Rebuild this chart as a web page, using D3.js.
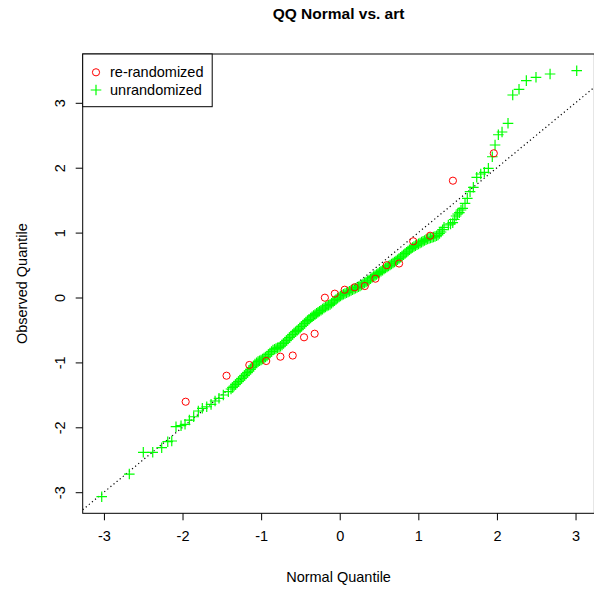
<!DOCTYPE html>
<html>
<head>
<meta charset="utf-8">
<script src="https://cdn.jsdelivr.net/npm/d3@7"></script>
<style>
  html, body { margin: 0; padding: 0; background: #fff; }
  svg { display: block; font-family: "Liberation Sans", Arial, sans-serif; }
</style>
</head>
<body>
<svg id="chart" width="594" height="589"></svg>
<script>
// ---- data ----
const title = "QQ Normal vs. art";
const xLabel = "Normal Quantile";
const yLabel = "Observed Quantile";
const seriesNames = ["re-randomized", "unrandomized"];
const xTicks = [-3, -2, -1, 0, 1, 2, 3];
const yTicks = [-3, -2, -1, 0, 1, 2, 3];

// re-randomized (red circles)
const redX = [-1.96, -1.44, -1.15, -0.935, -0.755, -0.598, -0.454, -0.319, -0.189, -0.063,
               0.063, 0.189, 0.319, 0.454, 0.598, 0.755, 0.935, 1.15, 1.44, 1.96];
const redY = [-1.606, -1.205, -1.040, -0.978, -0.912, -0.894, -0.613, -0.558, -0.003, 0.059,
               0.120, 0.157, 0.177, 0.290, 0.498, 0.524, 0.866, 0.952, 1.800, 2.222];

// unrandomized (green pluses)
const greenX = [
  -3.028, -2.677, -2.499, -2.379, -2.265, -2.188, -2.137, -2.083,
  -2.019, -1.968, -1.913, -1.858, -1.799, -1.748, -1.692, -1.637, -1.586, -1.536, -1.481, -1.417,
  -1.383, -1.364, -1.345, -1.326, -1.307, -1.287, -1.268, -1.249, -1.230, -1.211,
  -1.192, -1.173, -1.154, -1.135, -1.116, -1.097, -1.078, -1.058, -1.039, -1.020,
  -1.001, -0.982, -0.963, -0.944, -0.925, -0.906, -0.887, -0.868, -0.849, -0.829,
  -0.810, -0.791, -0.772, -0.753, -0.734, -0.715, -0.696, -0.677, -0.658, -0.639,
  -0.620, -0.600, -0.581, -0.562, -0.543, -0.524, -0.505, -0.486, -0.467, -0.448,
  -0.429, -0.410, -0.391, -0.371, -0.352, -0.333, -0.314, -0.295, -0.276, -0.257,
  -0.238, -0.219, -0.200, -0.181, -0.162, -0.142, -0.123, -0.104, -0.085, -0.066,
  -0.047, -0.028, -0.009, 0.010, 0.029, 0.048, 0.067, 0.087, 0.106, 0.125,
   0.144, 0.163, 0.182, 0.201, 0.220, 0.239, 0.258, 0.277, 0.296, 0.316,
   0.335, 0.354, 0.373, 0.392, 0.411, 0.430, 0.449, 0.468, 0.487, 0.506,
   0.525, 0.545, 0.564, 0.583, 0.602, 0.621, 0.640, 0.659, 0.678, 0.697,
   0.716, 0.735, 0.754, 0.774, 0.793, 0.812, 0.831, 0.850, 0.869, 0.888,
   0.907, 0.926, 0.945, 0.964, 0.983, 1.003, 1.022, 1.041, 1.060, 1.079,
   1.098, 1.117, 1.136, 1.155, 1.174, 1.193, 1.212, 1.232, 1.251, 1.270,
   1.289, 1.308,
   1.327, 1.382, 1.410, 1.438, 1.458, 1.480, 1.500, 1.522, 1.543, 1.565, 1.594, 1.623, 1.658, 1.700,
   1.743, 1.794, 1.840, 1.891, 1.941, 1.976, 2.018, 2.065, 2.141, 2.201, 2.281, 2.374, 2.497, 2.676, 3.015
];
const greenY = [
  -3.069, -2.720, -2.385, -2.385, -2.314, -2.222, -2.211, -1.991,
  -1.975, -1.954, -1.888, -1.837, -1.749, -1.707, -1.683, -1.646, -1.595, -1.553, -1.502, -1.451,
  -1.410, -1.387, -1.364, -1.340, -1.317, -1.294, -1.271, -1.248, -1.225, -1.202,
  -1.179, -1.156, -1.133, -1.106, -1.079, -1.052, -1.025, -1.005, -0.986, -0.975,
  -0.963, -0.948, -0.932, -0.917, -0.901, -0.878, -0.855, -0.832, -0.809, -0.797,
  -0.786, -0.776, -0.767, -0.750, -0.732, -0.709, -0.686, -0.662, -0.639, -0.616,
  -0.593, -0.570, -0.547, -0.527, -0.508, -0.489, -0.470, -0.447, -0.424, -0.400,
  -0.377, -0.356, -0.336, -0.316, -0.297, -0.279, -0.262, -0.245, -0.228, -0.212,
  -0.197, -0.179, -0.162, -0.146, -0.131, -0.120, -0.108, -0.088, -0.069, -0.050,
  -0.031, -0.011, 0.008, 0.024, 0.039, 0.050, 0.062, 0.074, 0.085, 0.097,
   0.108, 0.120, 0.131, 0.143, 0.154, 0.166, 0.177, 0.193, 0.208, 0.224,
   0.239, 0.255, 0.270, 0.289, 0.308, 0.323, 0.339, 0.355, 0.370, 0.387,
   0.404, 0.421, 0.439, 0.455, 0.470, 0.486, 0.501, 0.517, 0.532, 0.547,
   0.562, 0.582, 0.601, 0.620, 0.639, 0.659, 0.678, 0.697, 0.716, 0.736,
   0.755, 0.771, 0.786, 0.799, 0.812, 0.826, 0.840, 0.853, 0.866, 0.879,
   0.892, 0.902, 0.911, 0.918, 0.924, 0.932, 0.940, 0.952, 0.963, 0.986,
   1.009, 1.045,
   1.082, 1.117, 1.135, 1.153, 1.202, 1.256, 1.287, 1.307, 1.348, 1.374, 1.451, 1.528, 1.630, 1.698,
   1.852, 1.903, 1.929, 1.991, 2.169, 2.350, 2.508, 2.550, 2.684, 3.120, 3.208, 3.341, 3.393, 3.444, 3.495
];

// ---- layout ----
const svg = d3.select("#chart");
const plot = { left: 82.7, right: 594.4, top: 54, bottom: 513.3 };
const x = d3.scaleLinear().domain([-3.27, 3.24]).range([plot.left, plot.right]);
const y = d3.scaleLinear().domain([-3.325, 3.752]).range([plot.bottom, plot.top]);
const fs = 14.5;
const fmt = d => (d < 0 ? "-" + Math.abs(d) : String(d));

svg.append("defs").append("clipPath").attr("id", "clip")
  .append("rect").attr("x", plot.left).attr("y", plot.top)
  .attr("width", plot.right - plot.left).attr("height", plot.bottom - plot.top);

// reference line y = x (dotted)
const lineDom = x.domain();
svg.append("line")
  .attr("clip-path", "url(#clip)")
  .attr("x1", x(lineDom[0])).attr("y1", y(lineDom[0]))
  .attr("x2", x(lineDom[1])).attr("y2", y(lineDom[1]))
  .attr("stroke", "#000").attr("stroke-width", 1.2).attr("stroke-dasharray", "1.2 2.8");

// green pluses
const ps = 5.3;
const gData = greenX.map((v, i) => [v, greenY[i]]);
svg.append("g").attr("clip-path", "url(#clip)")
  .selectAll("path").data(gData).join("path")
  .attr("d", d => `M${x(d[0]) - ps},${y(d[1])}H${x(d[0]) + ps}M${x(d[0])},${y(d[1]) - ps}V${y(d[1]) + ps}`)
  .attr("stroke", "#00ff00").attr("stroke-width", 1.2).attr("fill", "none");

// red circles
const rData = redX.map((v, i) => [v, redY[i]]);
svg.append("g").attr("clip-path", "url(#clip)")
  .selectAll("circle").data(rData).join("circle")
  .attr("cx", d => x(d[0])).attr("cy", d => y(d[1])).attr("r", 3.6)
  .attr("fill", "none").attr("stroke", "#ff0000").attr("stroke-width", 1);

// box
svg.append("rect")
  .attr("x", plot.left).attr("y", plot.top)
  .attr("width", plot.right - plot.left).attr("height", plot.bottom - plot.top)
  .attr("fill", "none").attr("stroke", "#000").attr("stroke-width", 1);

// x axis
const xAxis = svg.append("g").attr("transform", `translate(0,${plot.bottom})`)
  .call(d3.axisBottom(x).tickValues(xTicks).tickSize(7).tickPadding(10).tickFormat(fmt));
xAxis.select(".domain").remove();
xAxis.selectAll("line").attr("stroke", "#000");
xAxis.selectAll("text").attr("font-size", fs).attr("fill", "#000")
  .attr("font-family", "Liberation Sans, Arial, sans-serif");

// y axis (labels rotated, R style)
const yAxis = svg.append("g").attr("transform", `translate(${plot.left},0)`)
  .call(d3.axisLeft(y).tickValues(yTicks).tickSize(7).tickFormat(fmt));
yAxis.select(".domain").remove();
yAxis.selectAll("line").attr("stroke", "#000");
yAxis.selectAll("text")
  .attr("font-size", fs).attr("fill", "#000")
  .attr("font-family", "Liberation Sans, Arial, sans-serif")
  .attr("x", null).attr("dy", null)
  .attr("text-anchor", "middle")
  .attr("transform", "translate(-18,0) rotate(-90)");

// title & axis labels
svg.append("text").attr("x", (plot.left + plot.right) / 2).attr("y", 19)
  .attr("text-anchor", "middle").attr("font-weight", "bold").attr("font-size", 15.5)
  .text(title);
svg.append("text").attr("x", (plot.left + plot.right) / 2).attr("y", 582)
  .attr("text-anchor", "middle").attr("font-size", fs).text(xLabel);
svg.append("text")
  .attr("transform", `translate(27,${(plot.top + plot.bottom) / 2}) rotate(-90)`)
  .attr("text-anchor", "middle").attr("font-size", fs).text(yLabel);

// legend
const lg = svg.append("g");
lg.append("rect").attr("x", plot.left).attr("y", plot.top)
  .attr("width", 129.5).attr("height", 52.7)
  .attr("fill", "#fff").attr("stroke", "#000").attr("stroke-width", 1);
const rows = [plot.top + 18.3, plot.top + 36];
lg.append("circle").attr("cx", 96).attr("cy", rows[0]).attr("r", 3.6)
  .attr("fill", "none").attr("stroke", "#ff0000");
lg.append("path")
  .attr("d", `M${96 - ps},${rows[1]}H${96 + ps}M96,${rows[1] - ps}V${rows[1] + ps}`)
  .attr("stroke", "#00ff00").attr("stroke-width", 1.2);
seriesNames.forEach((n, i) => {
  lg.append("text").attr("x", 110).attr("y", rows[i]).attr("dy", "0.35em")
    .attr("font-size", fs).text(n);
});
</script>
</body>
</html>
